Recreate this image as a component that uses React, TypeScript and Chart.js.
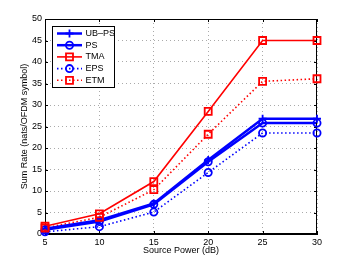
import React, { useEffect, useRef } from "react";
import { Chart, registerables } from "chart.js";

Chart.register(...registerables);

const xValues = [5, 10, 15, 20, 25, 30];
const ubps = [1.2, 3.2, 7.1, 17.2, 26.8, 26.8];
const ps = [1.0, 2.9, 6.9, 16.8, 25.8, 25.8];
const tma = [1.8, 4.7, 12.2, 28.5, 45.0, 45.0];
const eps = [0.5, 1.7, 5.1, 14.3, 23.5, 23.5];
const etm = [1.4, 3.9, 10.3, 23.2, 35.5, 36.1];
const seriesNames = ["UB\u2013PS", "PS", "TMA", "EPS", "ETM"];

const BLUE = "#0000ff";
const RED = "#ff0000";
const FONT = "'Liberation Sans', Arial, sans-serif";

type Style = { color: string; width: number; dash: number[]; marker: string };
const styles: Style[] = [
  { color: BLUE, width: 2.5, dash: [], marker: "cross" },
  { color: BLUE, width: 2.5, dash: [], marker: "circle" },
  { color: RED, width: 1.6, dash: [], marker: "rect" },
  { color: BLUE, width: 1.6, dash: [1.5, 2.5], marker: "circle" },
  { color: RED, width: 1.6, dash: [1.5, 2.5], marker: "rect" },
];

function drawMarker(ctx: CanvasRenderingContext2D, m: string, x: number, y: number, color: string) {
  ctx.save();
  ctx.setLineDash([]);
  ctx.strokeStyle = color;
  ctx.lineWidth = 1.8;
  ctx.beginPath();
  if (m === "circle") {
    ctx.arc(x, y, 3.6, 0, Math.PI * 2);
  } else if (m === "rect") {
    ctx.rect(x - 3.5, y - 3.5, 7, 7);
  } else {
    ctx.moveTo(x - 4, y);
    ctx.lineTo(x + 4, y);
    ctx.moveTo(x, y - 4);
    ctx.lineTo(x, y + 4);
  }
  ctx.stroke();
  ctx.restore();
}

const framePlugin = {
  id: "frame",
  afterDatasetsDraw(chart: any) {
    const { ctx, chartArea: a, scales } = chart;
    ctx.save();
    ctx.strokeStyle = "#000";
    ctx.lineWidth = 1;
    ctx.setLineDash([]);
    ctx.strokeRect(a.left + 0.5, a.top + 0.5, a.right - a.left - 1, a.bottom - a.top - 1);
    ctx.beginPath();
    scales.x.ticks.forEach((t: any) => {
      const px = Math.round(scales.x.getPixelForValue(t.value)) + 0.5;
      ctx.moveTo(px, a.bottom);
      ctx.lineTo(px, a.bottom - 3);
      ctx.moveTo(px, a.top);
      ctx.lineTo(px, a.top + 3);
    });
    scales.y.ticks.forEach((t: any) => {
      const py = Math.round(scales.y.getPixelForValue(t.value)) + 0.5;
      ctx.moveTo(a.left, py);
      ctx.lineTo(a.left + 3, py);
      ctx.moveTo(a.right, py);
      ctx.lineTo(a.right - 3, py);
    });
    ctx.stroke();
    chart.data.datasets.forEach((ds: any, i: number) => {
      const meta = chart.getDatasetMeta(i);
      meta.data.forEach((pt: any) => drawMarker(ctx, styles[i].marker, pt.x, pt.y, styles[i].color));
    });
    const lx = 52, ly = 26, lw = 62, lh = 61;
    ctx.fillStyle = "#fff";
    ctx.fillRect(lx, ly, lw, lh);
    ctx.strokeStyle = "#000";
    ctx.lineWidth = 1;
    ctx.strokeRect(lx + 0.5, ly + 0.5, lw, lh);
    ctx.font = "9px " + FONT;
    ctx.textBaseline = "middle";
    ctx.textAlign = "left";
    seriesNames.forEach((name, i) => {
      const y = 33.5 + i * 11.7;
      const s = styles[i];
      ctx.save();
      ctx.strokeStyle = s.color;
      ctx.lineWidth = s.width;
      ctx.setLineDash(s.dash);
      ctx.beginPath();
      ctx.moveTo(57, y);
      ctx.lineTo(82, y);
      ctx.stroke();
      ctx.restore();
      drawMarker(ctx, s.marker, 69.5, y, s.color);
      ctx.fillStyle = "#000";
      ctx.fillText(name, 85.5, y);
    });
    ctx.restore();
  },
};

export default function App() {
  const ref = useRef<HTMLCanvasElement>(null);
  useEffect(() => {
    document.body.style.margin = "0";
    const datasets = [ubps, ps, tma, eps, etm].map((d, i) => ({
      label: seriesNames[i],
      data: d.map((v, j) => ({ x: xValues[j], y: v })),
      borderColor: styles[i].color,
      backgroundColor: styles[i].color,
      borderWidth: styles[i].width,
      borderDash: styles[i].dash,
      pointRadius: 0,
      tension: 0,
    }));
    const chart = new Chart(ref.current!, {
      type: "line",
      data: { datasets },
      options: {
        animation: false,
        responsive: false,
        maintainAspectRatio: false,
        layout: { padding: { top: 19, right: 32, left: 0, bottom: 0 } },
        plugins: { legend: { display: false }, tooltip: { enabled: false } },
        scales: {
          x: {
            type: "linear",
            min: 5,
            max: 30,
            afterFit: (s: any) => { s.height = 29; },
            ticks: { stepSize: 5, color: "#000", font: { size: 9, family: FONT }, padding: 3 },
            grid: { color: "#aaaaaa", drawTicks: false, lineWidth: 1 },
            border: { display: true, color: "#000", dash: [1, 3] },
            title: { display: true, text: "Source Power (dB)", color: "#000", font: { size: 9, family: FONT }, padding: { top: 0, bottom: 7 } },
          },
          y: {
            min: 0,
            max: 50,
            afterFit: (s: any) => { s.width = 45; },
            ticks: { stepSize: 5, color: "#000", font: { size: 9, family: FONT }, padding: 3 },
            grid: { color: "#aaaaaa", drawTicks: false, lineWidth: 1 },
            border: { display: true, color: "#000", dash: [1, 3] },
            title: { display: true, text: "Sum Rate (nats/OFDM symbol)", color: "#000", font: { size: 9, family: FONT }, padding: { top: 19, bottom: 0 } },
          },
        },
      } as any,
      plugins: [framePlugin],
    });
    return () => chart.destroy();
  }, []);
  return <canvas ref={ref} width={349} height={263} style={{ display: "block" }} />;
}
